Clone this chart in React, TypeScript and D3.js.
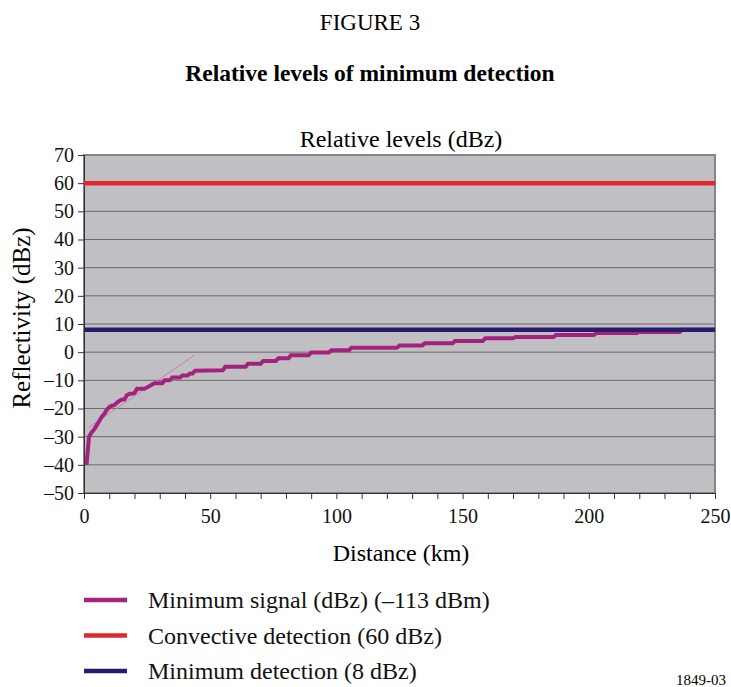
import React, { useEffect, useRef } from "react";
import * as d3 from "d3";

// Minimum signal curve vertices: [distance km, dBZ]
const signalKm = [1, 2, 3, 4, 5, 6, 7, 8, 9, 10, 11, 12, 13, 14, 15, 16, 17, 18, 19, 20, 21, 24, 25, 26, 27, 28, 31, 32, 34, 35, 38, 39, 41, 42, 43, 44, 55, 56, 64, 65, 70, 71, 76, 77, 81, 82, 89, 90, 97, 98, 105, 106, 124, 125, 134, 135, 146, 147, 158, 159, 170, 171, 186, 187, 202, 203, 219, 220, 236, 237, 250];
const signalDbz = [-40, -30, -28.5, -27.5, -26, -24.5, -23, -22, -20.5, -19.5, -19, -18.8, -18, -17.3, -16.8, -16.8, -15.3, -14.8, -14.8, -14.5, -13, -13, -12.5, -12, -11.5, -11, -11, -10, -10, -9, -9, -8.3, -8.3, -7.6, -7.6, -6.6, -6.4, -5.2, -5.2, -4.1, -4.1, -3.1, -3.1, -2.2, -2.2, -1.1, -1.1, -0.1, -0.1, 0.7, 0.7, 1.6, 1.6, 2.4, 2.4, 3.2, 3.2, 4.0, 4.0, 4.9, 4.9, 5.4, 5.4, 6.1, 6.1, 6.8, 6.8, 7.2, 7.2, 8, 8];

// faint straight trace seen on the chart
const traceKm = [2, 44];
const traceDbz = [-26.6, -1];

const convectiveLevel = 60;
const minDetectLevel = 8;

const xTicks = [0, 50, 100, 150, 200, 250];
const xMinorTicks = d3.range(0, 251, 10);
const yTicks = [-50, -40, -30, -20, -10, 0, 10, 20, 30, 40, 50, 60, 70];

const legendLabels = [
  "Minimum signal (dBz) (\u2013113 dBm)",
  "Convective detection (60 dBz)",
  "Minimum detection (8 dBz)",
];
const colors = { signal: "#a3227d", convective: "#e0282b", minimum: "#2a1a6e" };

const W = 731;
const H = 687;
const FONT = "Liberation Serif, Times New Roman, serif";

export default function App() {
  const ref = useRef<SVGSVGElement>(null);

  useEffect(() => {
    const svg = d3.select(ref.current);
    svg.selectAll("*").remove();
    svg.attr("font-family", FONT);

    const left = 84, right = 715, top = 155, bottom = 493;
    const x = d3.scaleLinear().domain([0, 250]).range([left, right]);
    const y = d3.scaleLinear().domain([-50, 70]).range([bottom, top]);

    svg.append("rect").attr("width", W).attr("height", H).attr("fill", "#fff");

    // Texts
    svg.append("text").attr("x", 370).attr("y", 30).attr("text-anchor", "middle")
      .attr("font-family", FONT).attr("font-size", 23).text("FIGURE 3");
    svg.append("text").attr("x", 370).attr("y", 81).attr("text-anchor", "middle")
      .attr("font-family", FONT).attr("font-size", 23.5).attr("font-weight", "bold")
      .text("Relative levels of minimum detection");
    svg.append("text").attr("x", 401).attr("y", 147).attr("text-anchor", "middle")
      .attr("font-family", FONT).attr("font-size", 24).text("Relative levels (dBz)");

    // plot background
    svg.append("rect").attr("x", left).attr("y", top).attr("width", right - left)
      .attr("height", bottom - top).attr("fill", "#c0c0c4");

    // grid
    svg.append("g").selectAll("line").data(yTicks.filter(v => v > -50 && v < 70)).join("line")
      .attr("x1", left).attr("x2", right).attr("y1", d => y(d)).attr("y2", d => y(d))
      .attr("stroke", "#6a6a6a").attr("stroke-width", 1);

    // border
    svg.append("rect").attr("x", left).attr("y", top).attr("width", right - left)
      .attr("height", bottom - top).attr("fill", "none").attr("stroke", "#858585").attr("stroke-width", 2);

    // y axis
    const yAxis = svg.append("g").attr("transform", `translate(${left},0)`)
      .call(d3.axisLeft(y).tickValues(yTicks).tickSize(6).tickPadding(4)
        .tickFormat(d => { const v = d as number; return v < 0 ? "\u2013" + Math.abs(v) : String(v); }));
    yAxis.attr("font-family", FONT);
    yAxis.select(".domain").attr("stroke", "#333");
    yAxis.selectAll(".tick line").attr("stroke", "#333");
    yAxis.selectAll("text").attr("font-family", FONT).attr("font-size", 20).attr("fill", "#111");

    // x axis
    const xAxis = svg.append("g").attr("transform", `translate(0,${bottom})`)
      .call(d3.axisBottom(x).tickValues(xMinorTicks).tickSize(6).tickPadding(10)
        .tickFormat(d => (xTicks.includes(d as number) ? String(d) : "")));
    xAxis.attr("font-family", FONT);
    xAxis.select(".domain").attr("stroke", "#333");
    xAxis.selectAll(".tick line").attr("stroke", "#333");
    xAxis.selectAll("text").attr("font-family", FONT).attr("font-size", 20).attr("fill", "#111");

    svg.append("text").attr("x", 401).attr("y", 561).attr("text-anchor", "middle")
      .attr("font-family", FONT).attr("font-size", 24).text("Distance (km)");
    svg.append("text").attr("transform", `translate(30,318) rotate(-90)`).attr("text-anchor", "middle")
      .attr("font-family", FONT).attr("font-size", 25).text("Reflectivity (dBz)");

    const line = d3.line<[number, number]>().x(d => x(d[0])).y(d => y(d[1]));

    // faint trace
    svg.append("path").datum(traceKm.map((k, i) => [k, traceDbz[i]] as [number, number]))
      .attr("d", line).attr("fill", "none").attr("stroke", "#c77fab").attr("stroke-width", 1);

    // signal
    svg.append("path").datum(signalKm.map((k, i) => [k, signalDbz[i]] as [number, number]))
      .attr("d", line).attr("fill", "none").attr("stroke", colors.signal).attr("stroke-width", 4)
      .attr("stroke-linejoin", "miter");

    // horizontal levels
    svg.append("path").datum([[0, convectiveLevel], [250, convectiveLevel]] as [number, number][])
      .attr("d", line).attr("stroke", colors.convective).attr("stroke-width", 4.5);
    svg.append("path").datum([[0, minDetectLevel], [250, minDetectLevel]] as [number, number][])
      .attr("d", line).attr("stroke", colors.minimum).attr("stroke-width", 4.5);

    // legend
    const legColors = [colors.signal, colors.convective, colors.minimum];
    const lg = svg.append("g");
    legendLabels.forEach((lab, i) => {
      const ly = 600 + i * 35.5;
      lg.append("line").attr("x1", 84).attr("x2", 127).attr("y1", ly).attr("y2", ly)
        .attr("stroke", legColors[i]).attr("stroke-width", 4.5);
      lg.append("text").attr("x", 148).attr("y", ly + 8).attr("font-family", FONT)
        .attr("font-size", 24).attr("fill", "#111").text(lab);
    });

    svg.append("text").attr("x", 726).attr("y", 685).attr("text-anchor", "end")
      .attr("font-family", FONT).attr("font-size", 15).text("1849-03");
  }, []);

  return (
    <div style={{ position: "absolute", left: 0, top: 0 }}>
      <svg ref={ref} width={W} height={H} style={{ display: "block" }} />
    </div>
  );
}
